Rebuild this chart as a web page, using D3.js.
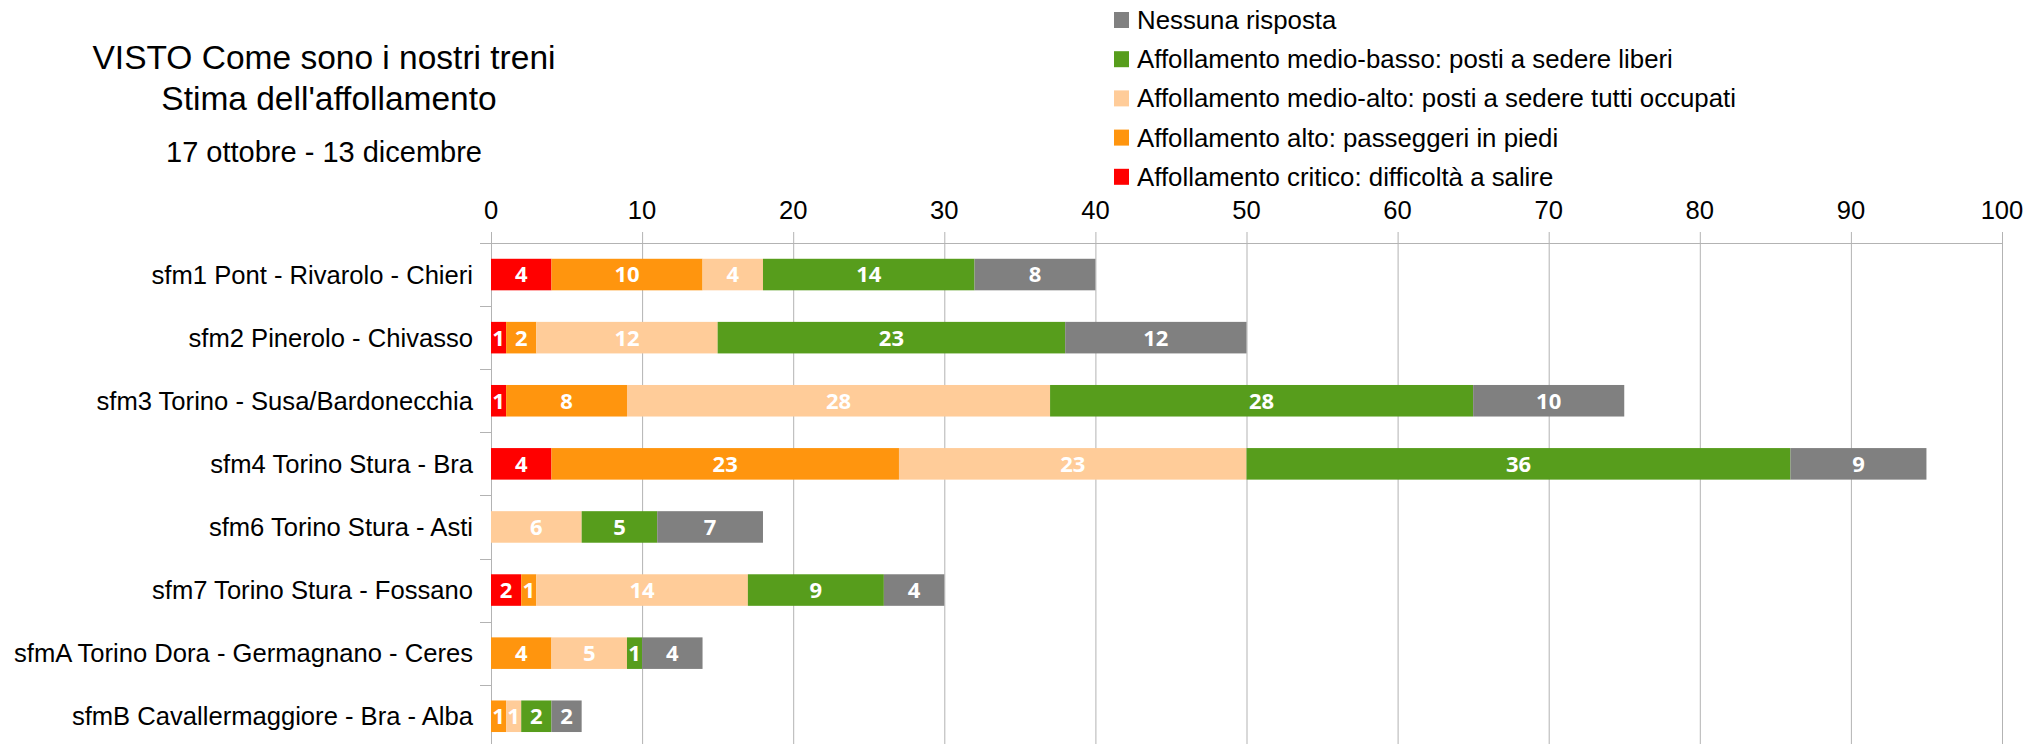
<!DOCTYPE html>
<html>
<head>
<meta charset="utf-8">
<script src="https://cdn.jsdelivr.net/npm/d3@7"></script>
<style>
  body { margin: 0; background: #fff; }
  text { font-family: "Liberation Sans", Arial, sans-serif; }
  .val { font-family: "Open Sans", sans-serif; font-weight: bold; fill: #fff; }
</style>
</head>
<body>
<svg id="chart" width="2044" height="744"></svg>
<script>
(function () {
  'use strict';

  // data
  var lines = [
    'sfm1 Pont - Rivarolo - Chieri',
    'sfm2 Pinerolo - Chivasso',
    'sfm3 Torino - Susa/Bardonecchia',
    'sfm4 Torino Stura - Bra',
    'sfm6 Torino Stura - Asti',
    'sfm7 Torino Stura - Fossano',
    'sfmA Torino Dora - Germagnano - Ceres',
    'sfmB Cavallermaggiore - Bra - Alba'
  ];
  var seriesNames = [
    'Affollamento critico: difficoltà a salire',
    'Affollamento alto: passeggeri in piedi',
    'Affollamento medio-alto: posti a sedere tutti occupati',
    'Affollamento medio-basso: posti a sedere liberi',
    'Nessuna risposta'
  ];
  var critico    = [4, 1, 1, 4, 0, 2, 0, 0];
  var alto       = [10, 2, 8, 23, 0, 1, 4, 1];
  var medioAlto  = [4, 12, 28, 23, 6, 14, 5, 1];
  var medioBasso = [14, 23, 28, 36, 5, 9, 1, 2];
  var nessuna    = [8, 12, 10, 9, 7, 4, 4, 2];
  var xTicks = [0, 10, 20, 30, 40, 50, 60, 70, 80, 90, 100];
  var colors = ['#ff0000', '#ff950e', '#ffcc99', '#579d1c', '#808080'];

  var left = 491, right = 2002, top = 243, step = 63.1;

  var table = lines.map(function (name, i) {
    return { line: name, s0: critico[i], s1: alto[i], s2: medioAlto[i], s3: medioBasso[i], s4: nessuna[i] };
  });
  var keys = ['s0', 's1', 's2', 's3', 's4'];
  var stacked = d3.stack().keys(keys)(table);

  var svg = d3.select('#chart');

  var x = d3.scaleLinear().domain([0, 100]).range([left, right]);
  var y = d3.scaleBand().domain(lines).range([top, top + step * lines.length]).paddingInner(0.5).paddingOuter(0.25);

  // grid
  svg.append('g').selectAll('line').data(xTicks).enter().append('line')
    .attr('x1', function (d) { return x(d) + 0.5; })
    .attr('x2', function (d) { return x(d) + 0.5; })
    .attr('y1', top - 11)
    .attr('y2', 744)
    .attr('stroke', '#b3b3b3')
    .attr('stroke-width', 1);

  svg.append('line')
    .attr('x1', left - 11).attr('x2', right + 0.5)
    .attr('y1', top + 0.5).attr('y2', top + 0.5)
    .attr('stroke', '#b3b3b3');

  // category ticks
  svg.append('g').selectAll('line').data(d3.range(lines.length + 1)).enter().append('line')
    .attr('x1', left - 11).attr('x2', left)
    .attr('y1', function (i) { return Math.round(top + i * step) + 0.5; })
    .attr('y2', function (i) { return Math.round(top + i * step) + 0.5; })
    .attr('stroke', '#b3b3b3');

  // x tick labels
  svg.append('g').selectAll('text').data(xTicks).enter().append('text')
    .attr('x', function (d) { return x(d); })
    .attr('y', 219)
    .attr('text-anchor', 'middle')
    .attr('font-size', 25.6)
    .text(function (d) { return d; });

  // category labels
  svg.append('g').selectAll('text').data(lines).enter().append('text')
    .attr('x', 473)
    .attr('y', function (d) { return y(d) + y.bandwidth() / 2; })
    .attr('dy', '0.35em')
    .attr('text-anchor', 'end')
    .attr('font-size', 25.6)
    .text(function (d) { return d; });

  // bars
  var groups = svg.append('g').selectAll('g').data(stacked).enter().append('g')
    .attr('fill', function (d, i) { return colors[i]; });

  groups.selectAll('rect').data(function (d) { return d; }).enter().append('rect')
    .attr('x', function (d) { return x(d[0]); })
    .attr('y', function (d) { return y(d.data.line); })
    .attr('width', function (d) { return x(d[1]) - x(d[0]); })
    .attr('height', y.bandwidth());

  groups.selectAll('text').data(function (d) { return d.filter(function (p) { return p[1] > p[0]; }); })
    .enter().append('text')
    .attr('class', 'val')
    .attr('x', function (d) { return (x(d[0]) + x(d[1])) / 2; })
    .attr('y', function (d) { return y(d.data.line) + y.bandwidth() / 2; })
    .attr('dy', '0.36em')
    .attr('text-anchor', 'middle')
    .attr('font-size', 22)
    .text(function (d) { return d[1] - d[0]; });

  // legend
  var legend = svg.append('g').selectAll('g').data(seriesNames.slice().reverse()).enter().append('g')
    .attr('transform', function (d, i) { return 'translate(1114,' + (20 + i * 39.2) + ')'; });
  legend.append('rect')
    .attr('x', 0).attr('y', -8).attr('width', 15).attr('height', 16)
    .attr('fill', function (d) { return colors[seriesNames.indexOf(d)]; });
  legend.append('text')
    .attr('x', 23).attr('dy', '0.35em')
    .attr('font-size', 25.8)
    .text(function (d) { return d; });

  // titles
  svg.append('text').attr('x', 324).attr('y', 57).attr('dy', '0.35em')
    .attr('text-anchor', 'middle').attr('font-size', 33.5)
    .text('VISTO Come sono i nostri treni');
  svg.append('text').attr('x', 329).attr('y', 98).attr('dy', '0.35em')
    .attr('text-anchor', 'middle').attr('font-size', 33.5)
    .text("Stima dell'affollamento");
  svg.append('text').attr('x', 324).attr('y', 152).attr('dy', '0.35em')
    .attr('text-anchor', 'middle').attr('font-size', 29)
    .text('17 ottobre - 13 dicembre');
})();
</script>
</body>
</html>
